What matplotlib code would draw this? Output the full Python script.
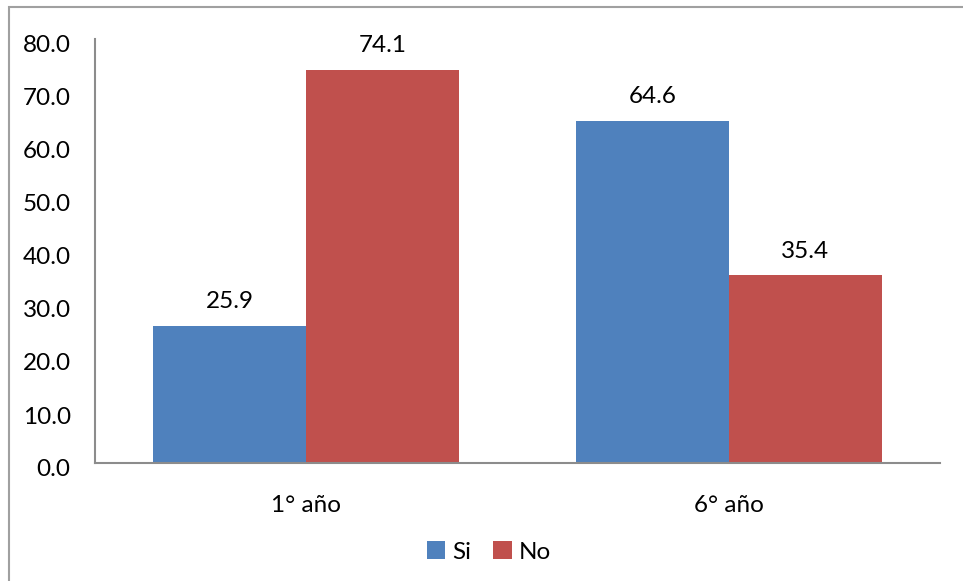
import matplotlib
matplotlib.use("Agg")
import matplotlib.pyplot as plt
import matplotlib.transforms as mtransforms
from matplotlib.patches import Rectangle, Patch
import numpy as np

categories = ["1° año", "6° año"]
series_names = ["Si", "No"]
si_values = [25.9, 64.6]
no_values = [74.1, 35.4]
y_ticks = [0, 10, 20, 30, 40, 50, 60, 70, 80]

colors = ["#4F81BD", "#C0504D"]
FS = 17.5

plt.rcParams["font.family"] = ["Lato", "DejaVu Sans"]

W, H = 963, 581
fig = plt.figure(figsize=(W / 100, H / 100), dpi=100)

# outer chart-area frame (right and bottom edges fall outside the canvas)
fig.patches.append(Rectangle((9 / W, -0.05), 1.1, 1 - 7 / H + 0.05,
                             transform=fig.transFigure, fill=False,
                             edgecolor="#A0A0A0", linewidth=1.5))

left, right = 95 / W, 940 / W
bottom, top = 1 - 463 / H, 1 - 39 / H
ax = fig.add_axes([left, bottom, right - left, top - bottom])

x = np.arange(len(categories))
bw = 0.362
bars_si = ax.bar(x - bw / 2, si_values, bw, color=colors[0], label=series_names[0])
bars_no = ax.bar(x + bw / 2, no_values, bw, color=colors[1], label=series_names[1])

for bars, vals in ((bars_si, si_values), (bars_no, no_values)):
    for b, v in zip(bars, vals):
        ax.annotate(f"{v:.1f}", (b.get_x() + b.get_width() / 2, v),
                    xytext=(0, 17.5), textcoords="offset points",
                    ha="center", va="center", fontsize=FS, color="black")

ax.set_xlim(-0.5, 1.5)
ax.set_ylim(0, 80)
ax.set_yticks(y_ticks)
ax.set_yticklabels([f"{t:.1f}" for t in y_ticks], fontsize=FS)
ax.set_xticks(x)
ax.set_xticklabels(categories, fontsize=FS)
ax.tick_params(axis="y", length=0, pad=17.5)
ax.tick_params(axis="x", length=0, pad=23)
shift = mtransforms.ScaledTranslation(0, -5 / 100, fig.dpi_scale_trans)
for lbl in ax.get_yticklabels():
    lbl.set_transform(lbl.get_transform() + shift)

for s in ("top", "right"):
    ax.spines[s].set_visible(False)
for s in ("left", "bottom"):
    ax.spines[s].set_color("#8C8C8C")
    ax.spines[s].set_linewidth(1.5)

handles = [Patch(facecolor=c, label=n) for c, n in zip(colors, series_names)]
fig.legend(handles=handles, loc="center", bbox_to_anchor=(489 / W, 1 - 552 / H),
           ncol=2, frameon=False, fontsize=FS, handlelength=0.75, handleheight=0.75,
           handletextpad=0.3, columnspacing=0.9)

fig.savefig("out.png", dpi=100)
